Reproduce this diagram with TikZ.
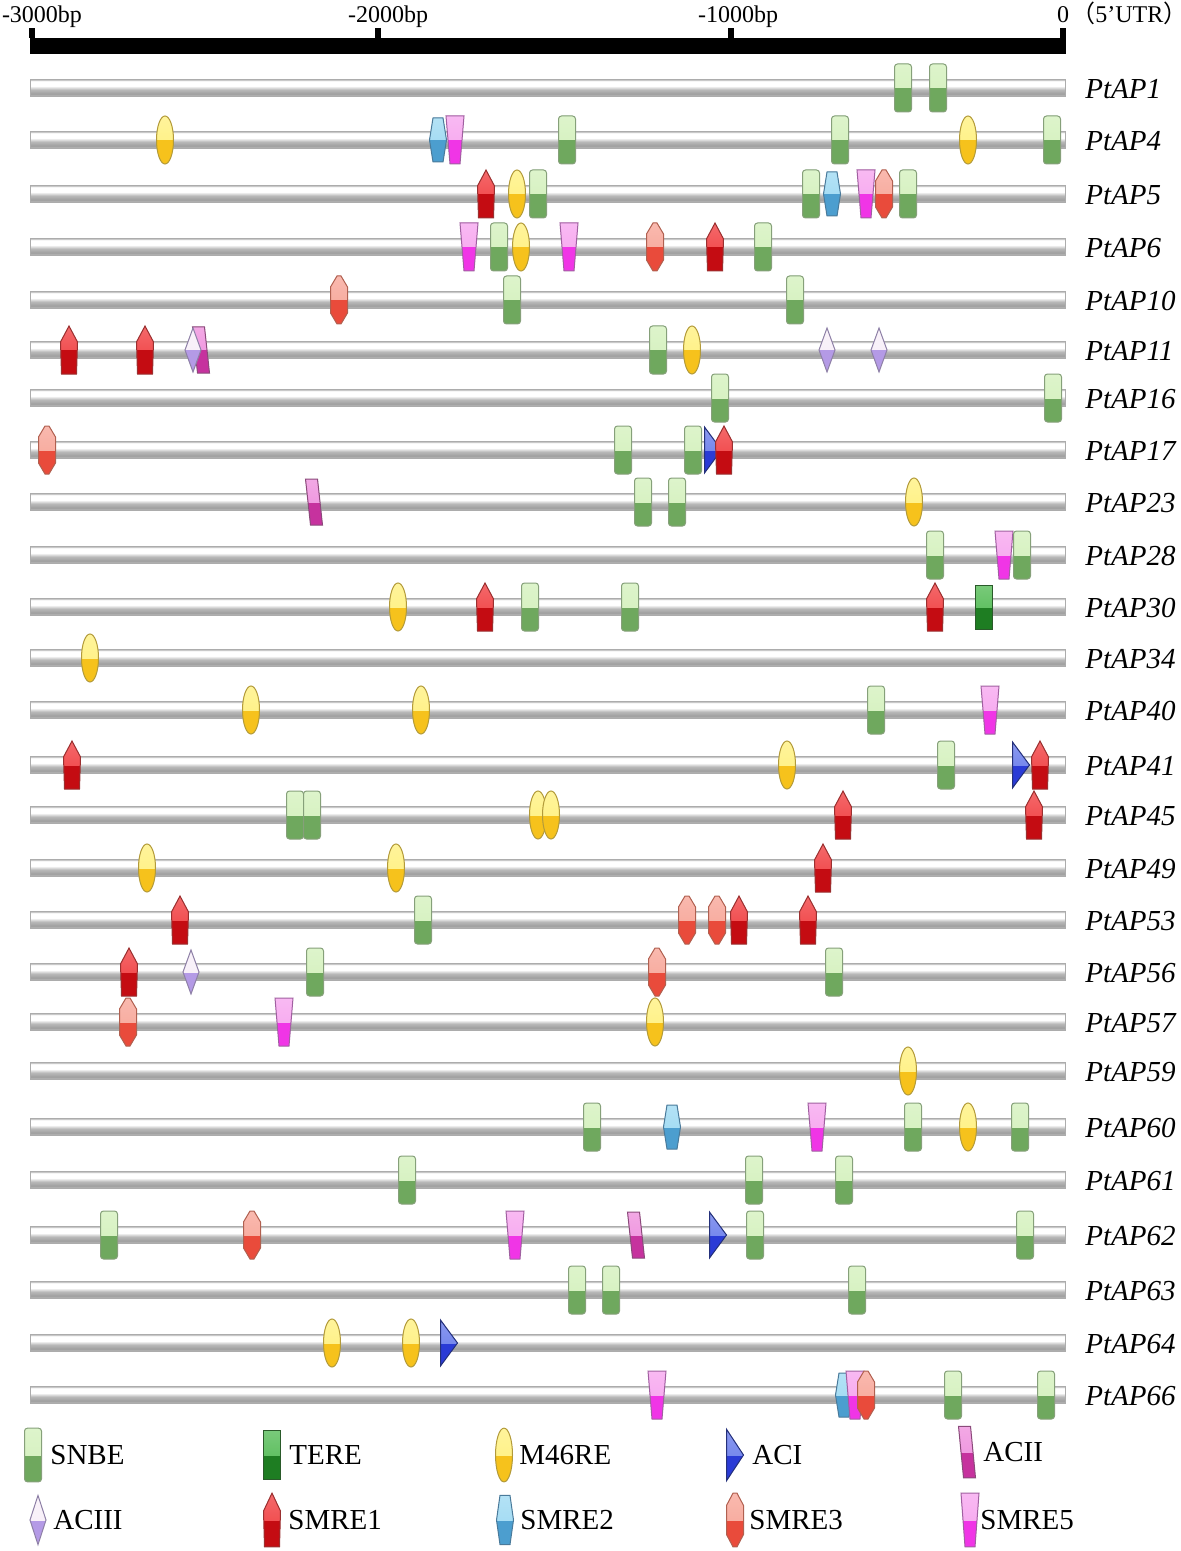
\documentclass[tikz,border=0pt]{standalone}
\usepackage{fontspec}
\setmainfont{Liberation Serif}
\newfontfamily\cjk{Noto Sans CJK SC}
\usepackage{tikz}
\usetikzlibrary{positioning}

\definecolor{snbeTop}{HTML}{D2F0BA}
\definecolor{snbeBot}{HTML}{6FA85E}
\definecolor{snbeLine}{HTML}{86A07A}
\definecolor{tereTop}{HTML}{4CB84E}
\definecolor{tereBot}{HTML}{1E7D22}
\definecolor{tereLine}{HTML}{2A5A2A}
\definecolor{mTop}{HTML}{FFF07A}
\definecolor{mBot}{HTML}{F6C21C}
\definecolor{mLine}{HTML}{B29A3A}
\definecolor{aciTop}{HTML}{6478EA}
\definecolor{aciBot}{HTML}{2A3BD6}
\definecolor{aciLine}{HTML}{24307A}
\definecolor{aciiTop}{HTML}{EE8CDC}
\definecolor{aciiBot}{HTML}{C6329E}
\definecolor{aciiLine}{HTML}{8A4A7A}
\definecolor{aciiiTop}{HTML}{F7EEF8}
\definecolor{aciiiBot}{HTML}{B49AE6}
\definecolor{aciiiLine}{HTML}{8E80A6}
\definecolor{smreATop}{HTML}{F0383A}
\definecolor{smreABot}{HTML}{C40C12}
\definecolor{smreALine}{HTML}{9A3030}
\definecolor{smreBTop}{HTML}{9AD8F2}
\definecolor{smreBBot}{HTML}{4C9ECF}
\definecolor{smreBLine}{HTML}{4A7A9A}
\definecolor{smreCTop}{HTML}{F7A294}
\definecolor{smreCBot}{HTML}{E94B3B}
\definecolor{smreCLine}{HTML}{B06050}
\definecolor{smreETop}{HTML}{F6A2EE}
\definecolor{smreEBot}{HTML}{F035E6}
\definecolor{smreELine}{HTML}{A060A0}

\pgfdeclareverticalshading{tube}{100bp}{color(0bp)=(gray!50); color(25bp)=(gray!50);
  color(33bp)=(gray!75); color(45bp)=(gray!55); color(56bp)=(white);
  color(70bp)=(white); color(75bp)=(gray!60); color(100bp)=(gray!60)}

% two-tone motif: path, top colour, bottom colour, outline
\newcommand\glossy[4]{%
  \fill[#3] #1;
  \begin{scope}
    \clip (-12,-30) rectangle (12,0);
    \shade[top color=#2!75!white,bottom color=#2] #1;
  \end{scope}
  \draw[#4,line width=0.5pt] #1;
}
\newcommand\motifsnbe{\glossy{[rounded corners=1.5pt] (-8.5,-24) rectangle (8.5,24)}{snbeTop}{snbeBot}{snbeLine}}
\newcommand\motiftere{\glossy{(-8.5,-22) rectangle (8.5,22)}{tereTop}{tereBot}{tereLine}}
\newcommand\motifm{\glossy{(0,0) ellipse [x radius=4.25pt,y radius=12pt]}{mTop}{mBot}{mLine}}
\newcommand\motifaci{\glossy{(-8.5,-23) -- (8.5,0) -- (-8.5,23) -- cycle}{aciTop}{aciBot}{aciLine}}
\newcommand\motifacii{\glossy{(-8.5,-23) -- (3.5,-23) -- (8.5,23) -- (-3.5,23) -- cycle}{aciiTop}{aciiBot}{aciiLine}}
\newcommand\motifaciii{\glossy{(0,-22) -- (8,0) -- (0,22) -- (-8,0) -- cycle}{aciiiTop}{aciiiBot}{aciiiLine}}
\newcommand\motifsmreA{\glossy{(0,-24) -- (8.5,-8) -- (7.5,24) -- (-7.5,24) -- (-8.5,-8) -- cycle}{smreATop}{smreABot}{smreALine}}
\newcommand\motifsmreB{\glossy{(-5,-22) -- (5,-22) -- (8.5,0) -- (5,22) -- (-5,22) -- (-8.5,0) -- cycle}{smreBTop}{smreBBot}{smreBLine}}
\newcommand\motifsmreC{\glossy{(-2,-24) -- (2,-24) -- (8.5,-13) -- (8.5,13) -- (2,24) -- (-2,24) -- (-8.5,13) -- (-8.5,-13) -- cycle}{smreCTop}{smreCBot}{smreCLine}}
\newcommand\motifsmreE{\glossy{(-9,-24) -- (9,-24) -- (5,24) -- (-5,24) -- cycle}{smreETop}{smreEBot}{smreELine}}

\begin{document}
\begin{tikzpicture}[x=0.5pt,y=-0.5pt,
    tube/.style={shade,shading=tube,draw=gray!65,line width=0.4pt},
    genelabel/.style={anchor=west,inner sep=0pt,font=\fontsize{14.5}{16}\selectfont\itshape},
    keylabel/.style={anchor=west,inner sep=0pt,font=\fontsize{14.5}{16}\selectfont},
    scalelabel/.style={anchor=base,inner sep=0pt,font=\fontsize{12}{14}\selectfont}]
    \useasboundingbox (0,0) rectangle (1181,1551);

    % Scale bar
    \fill (30,38) rectangle (1066,54);
    \foreach \xx in {29,375,728,1060}
        \fill (\xx,28) rectangle ++(6,10);
    \node[scalelabel] (bp3000) at (42,23) {-3000bp};
    \node[scalelabel] (bp2000) at (388,23) {-2000bp};
    \node[scalelabel] (bp1000) at (738,23) {-1000bp};
    \node[scalelabel] (bp0) at (1063,23) {0};
    \node[scalelabel,anchor=base west] (utr) at (1071,23)
        {\smash{\cjk （}5’UTR\rlap{\smash{\cjk ）}}};

    % Promoters
    \foreach \yy/\gene/\motifs in {
        88/PtAP1/{snbe/903,snbe/938},
        140/PtAP4/{m/165,smreB/438,smreE/455,snbe/567,snbe/840,m/968,snbe/1052},
        194/PtAP5/{smreA/486,m/517,snbe/538,snbe/811,smreB/832,smreE/866,smreC/884,snbe/908},
        247/PtAP6/{smreE/469,snbe/499,m/521,smreE/569,smreC/655,smreA/715,snbe/763},
        300/PtAP10/{smreC/339,snbe/512,snbe/795},
        350/PtAP11/{smreA/69,smreA/145,acii/201,aciii/193,snbe/658,m/692,aciii/827,aciii/879},
        398/PtAP16/{snbe/720,snbe/1053},
        450/PtAP17/{smreC/47,snbe/623,snbe/693,aci/713,smreA/724},
        502/PtAP23/{acii/314,snbe/643,snbe/677,m/914},
        555/PtAP28/{snbe/935,smreE/1004,snbe/1022},
        607/PtAP30/{m/398,smreA/485,snbe/530,snbe/630,smreA/935,tere/984},
        658/PtAP34/{m/90},
        710/PtAP40/{m/251,m/421,snbe/876,smreE/990},
        765/PtAP41/{smreA/72,m/787,snbe/946,aci/1021,smreA/1040},
        815/PtAP45/{snbe/295,snbe/312,m/538,m/551,smreA/843,smreA/1034},
        868/PtAP49/{m/147,m/396,smreA/823},
        920/PtAP53/{smreA/180,snbe/423,smreC/687,smreC/717,smreA/739,smreA/808},
        972/PtAP56/{smreA/129,aciii/191,snbe/315,smreC/657,snbe/834},
        1022/PtAP57/{smreC/128,smreE/284,m/655},
        1071/PtAP59/{m/908},
        1127/PtAP60/{snbe/592,smreB/672,smreE/817,snbe/913,m/968,snbe/1020},
        1180/PtAP61/{snbe/407,snbe/754,snbe/844},
        1235/PtAP62/{snbe/109,smreC/252,smreE/515,acii/636,aci/718,snbe/755,snbe/1025},
        1290/PtAP63/{snbe/577,snbe/611,snbe/857},
        1343/PtAP64/{m/332,m/411,aci/449},
        1395/PtAP66/{smreE/657,smreB/844,smreE/855,smreC/866,snbe/953,snbe/1046}%
    }{
        \path[tube] (30,\yy-8.5) rectangle (1065,\yy+8.5);
        \foreach \m/\xx in \motifs {
            \begin{scope}[shift={(\xx,\yy)}]
                \csname motif\m\endcsname
            \end{scope}
        }
        \node[genelabel] (\gene) at (1085,\yy+1) {\gene};
    }

    % Legend
    \foreach \m/\lab/\xx/\tx/\yy in {
        snbe/SNBE/33/50/1455, tere/TERE/272/289/1455, m/M46RE/504/519/1455,
        aci/ACI/735/752/1455, acii/ACII/967/983/1452,
        aciii/ACIII/38/53/1520, smreA/SMRE1/272/288/1520, smreB/SMRE2/505/520/1520,
        smreC/SMRE3/735/749/1520, smreE/SMRE5/970/980/1520%
    }{
        \begin{scope}[shift={(\xx,\yy)},yscale=1.12]
            \csname motif\m\endcsname
        \end{scope}
        \node[keylabel] (key-\m) at (\tx,\yy) {\lab};
    }
\end{tikzpicture}
\end{document}
